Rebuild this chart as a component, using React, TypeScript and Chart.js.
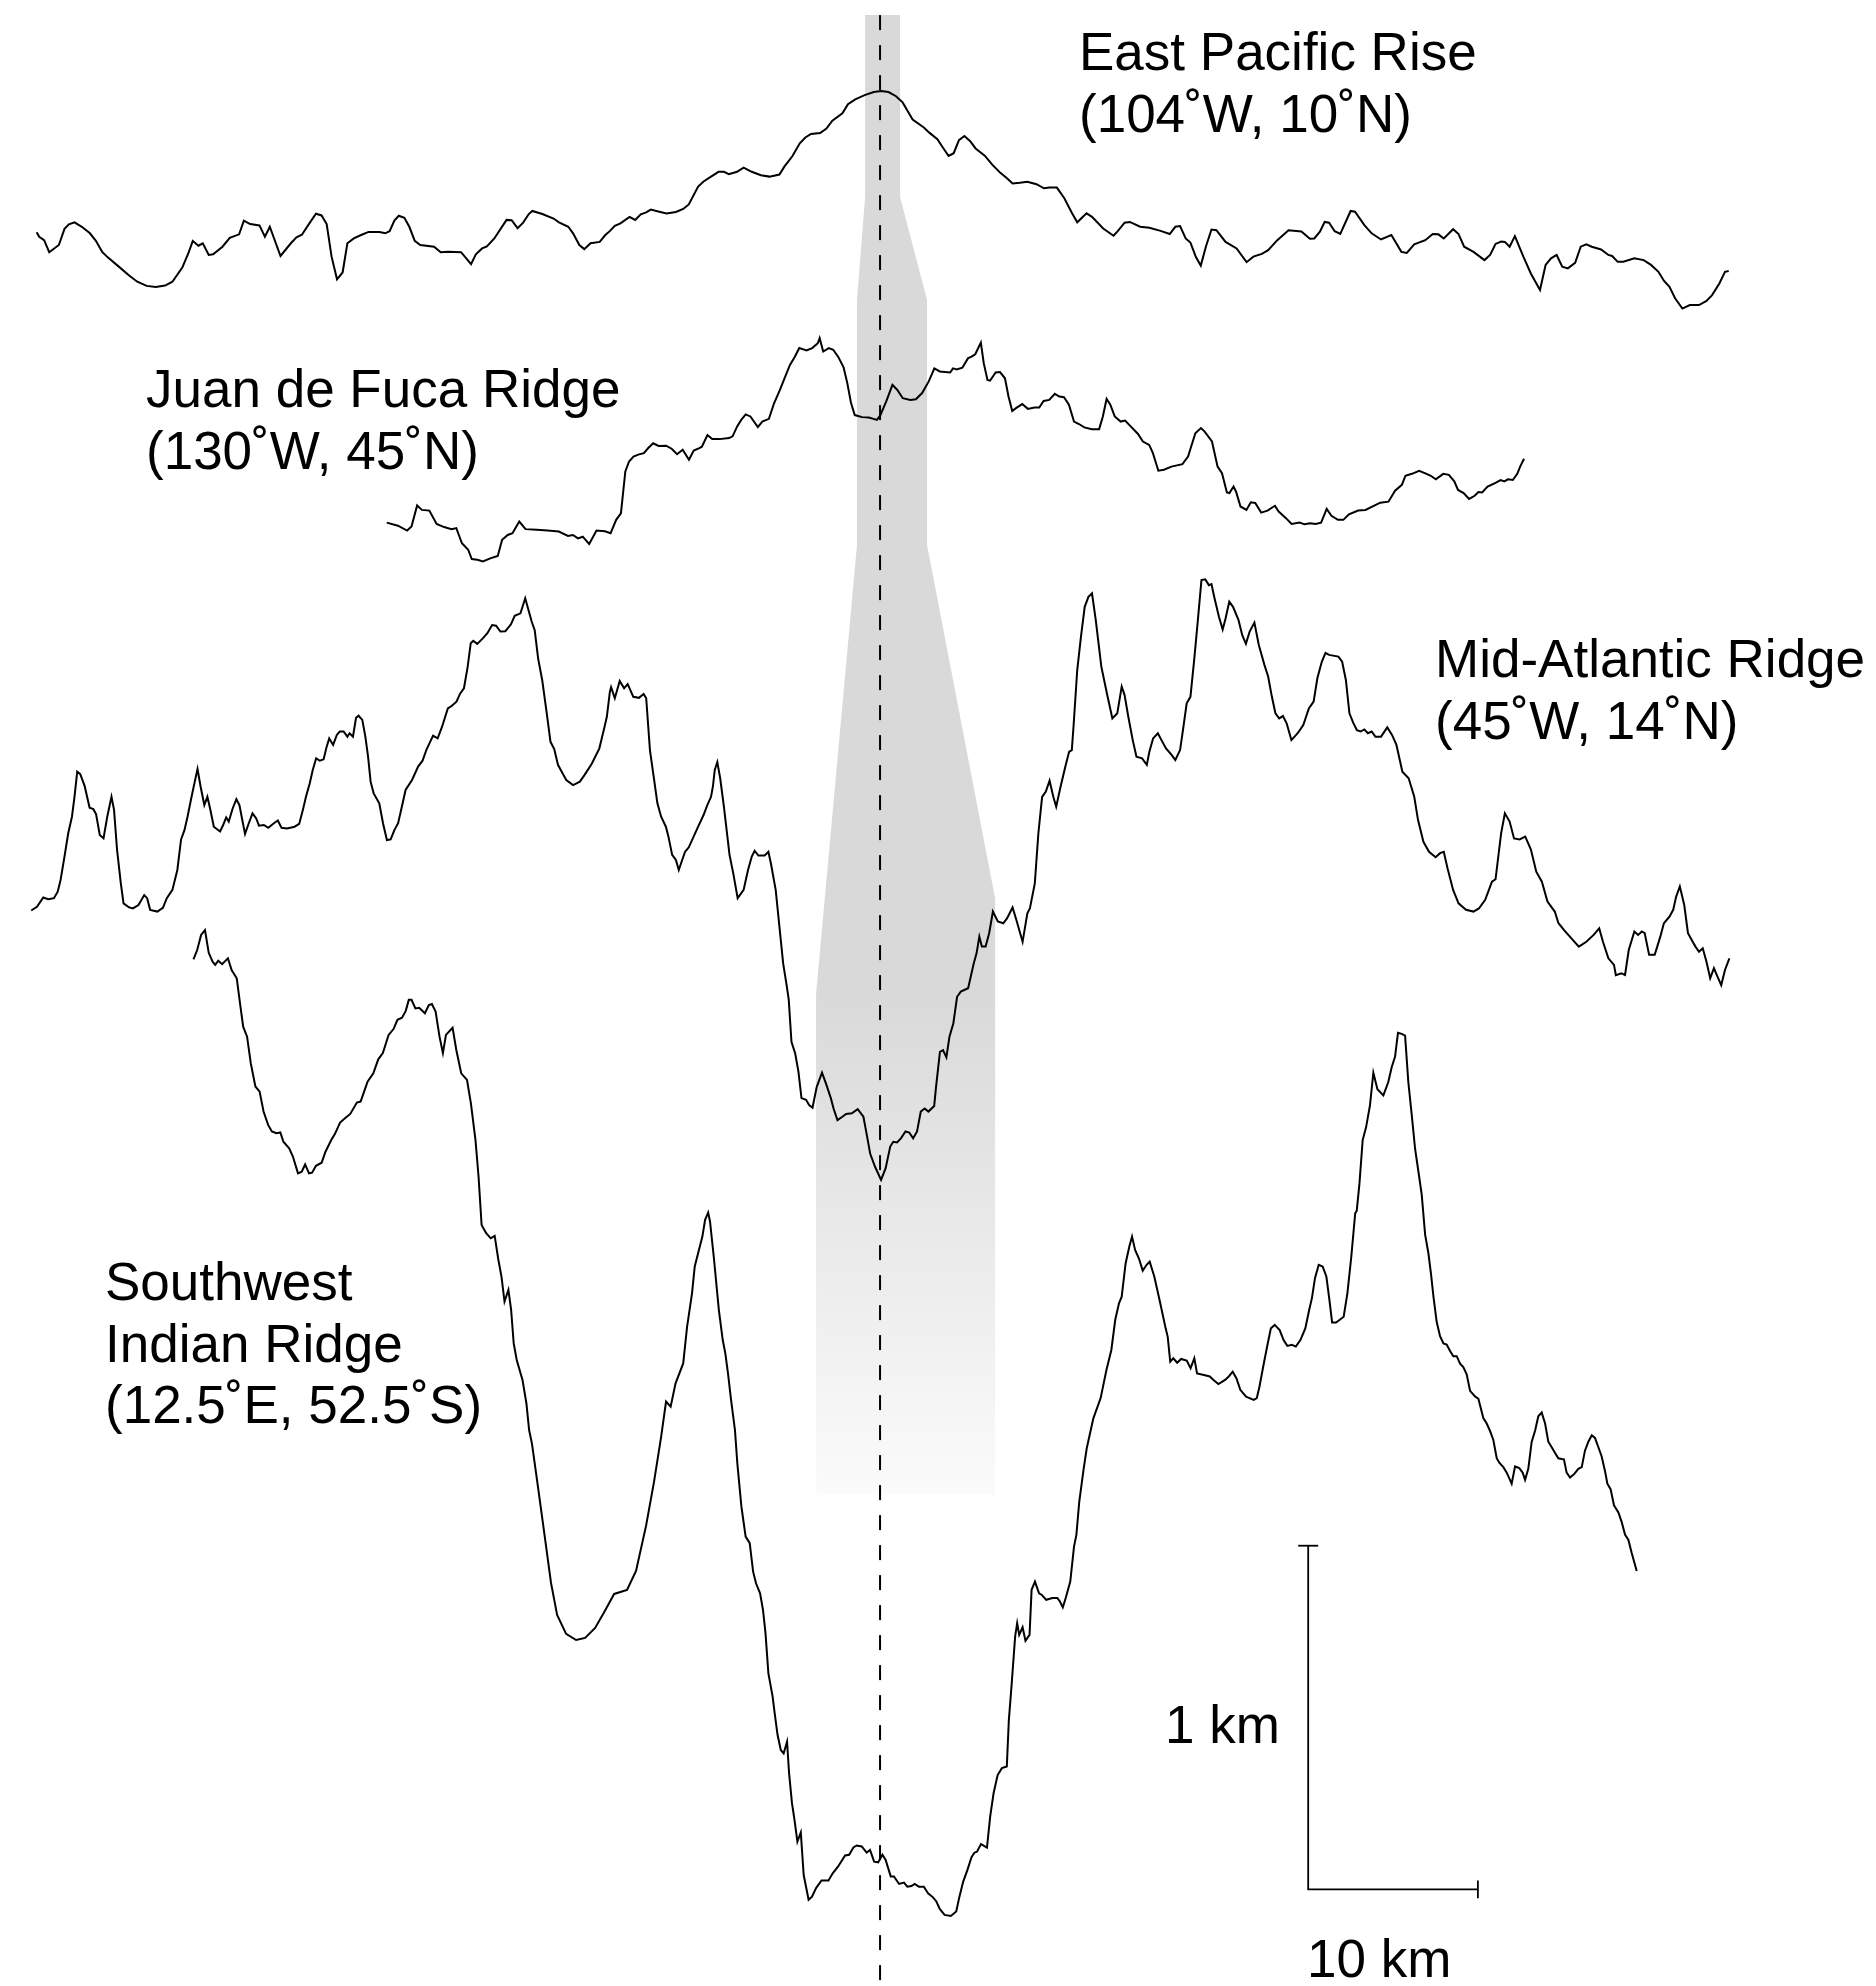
import React, { useEffect, useRef } from 'react';
import { Chart, registerables } from 'chart.js';

Chart.register(...registerables);

// ---------- Data: across-axis distance (km) and relief (m, relative to each profile's datum) ----------
const eprDistKm = [
  -49.70, -49.55, -49.26, -48.96, -48.39, -48.06, -47.80, -47.47, -47.04, -46.56, -46.21, -45.84, -45.51, -44.86,
  -44.25, -43.77, -43.22, -42.68, -42.13, -41.70, -41.11, -40.76, -40.50, -40.17, -39.91, -39.56, -39.30, -38.75,
  -38.32, -37.77, -37.49, -37.12, -36.57, -36.25, -35.96, -35.33, -34.72, -34.39, -34.07, -33.63, -33.24, -32.91,
  -32.61, -32.32, -32.00, -31.67, -31.39, -31.01, -30.58, -30.14, -29.49, -29.16, -28.90, -28.62, -28.36, -28.03,
  -27.74, -27.42, -27.09, -26.28, -25.89, -25.46, -24.69, -24.10, -23.82, -23.45, -23.17, -22.73, -22.01, -21.71,
  -21.36, -21.03, -20.70, -20.49, -19.90, -19.24, -18.92, -18.37, -18.09, -17.72, -17.43, -17.06, -16.52, -16.19,
  -15.91, -15.63, -15.30, -14.76, -14.43, -14.10, -13.78, -13.51, -13.01, -12.58, -12.03, -11.60, -11.27, -10.72,
  -10.40, -9.96, -9.52, -9.20, -8.91, -8.43, -8.04, -7.56, -7.02, -6.52, -5.93, -5.64, -5.16, -4.73, -4.40, -4.07,
  -3.53, -3.16, -2.81, -2.22, -1.89, -1.46, -0.91, -0.37, 0.07, 0.50, 0.94, 1.33, 1.59, 1.92, 2.58, 2.90, 3.38,
  3.67, 4.04, 4.34, 4.65, 4.97, 5.30, 5.63, 6.17, 6.61, 7.09, 7.48, 7.81, 8.24, 8.68, 9.22, 9.66, 9.99, 10.42,
  10.86, 11.30, 11.62, 12.17, 12.49, 13.15, 13.76, 14.02, 14.41, 14.72, 15.33, 15.87, 16.53, 17.07, 17.40, 17.68,
  18.01, 18.29, 18.62, 18.90, 19.20, 19.53, 19.82, 20.36, 21.01, 21.60, 22.00, 22.50, 22.87, 23.41, 24.07, 24.83,
  25.33, 25.59, 25.92, 26.20, 26.46, 26.79, 27.12, 27.73, 27.99, 28.54, 28.97, 29.52, 30.13, 30.72, 31.04, 31.48,
  32.13, 32.57, 32.90, 33.22, 33.77, 34.09, 34.42, 34.97, 35.62, 35.95, 36.27, 36.60, 36.82, 37.10, 37.41, 37.91,
  38.35, 38.89, 39.22, 39.54, 39.87, 40.20, 40.53, 40.96, 41.29, 41.62, 41.94, 42.49, 42.92, 43.14, 43.47, 43.80,
  44.45, 45.00, 45.43, 45.87, 46.19, 46.52, 46.85, 47.28, 47.72, 48.26, 48.70, 49.03, 49.46, 49.79, 50.01,
];
const eprReliefM = [
  110, 97, 87, 52, 73, 120, 133, 139, 126, 107, 85, 53, 37, 10,
  -16, -34, -46, -49, -45, -34, 8, 49, 85, 71, 78, 44, 46, 68,
  94, 104, 144, 134, 130, 97, 126, 41, 78, 95, 103, 136, 164, 159,
  134, 39, -27, -7, 78, 92, 102, 111, 111, 107, 113, 144, 158, 152,
  126, 85, 73, 68, 52, 53, 52, 17, 46, 63, 69, 92, 146, 145,
  122, 138, 163, 172, 163, 150, 139, 126, 107, 73, 61, 78, 82, 102,
  114, 129, 136, 155, 146, 162, 168, 176, 170, 165, 169, 178, 191, 243,
  258, 272, 286, 286, 279, 286, 298, 286, 276, 272, 278, 301, 332, 369, 386, 396,
  399, 412, 435, 456, 483, 497, 509, 518, 521, 518, 506, 488, 466, 438, 415, 400, 381,
  359, 332, 340, 378, 390, 376, 354, 333, 307, 283, 267, 252, 254, 257, 250, 238, 240, 240,
  209, 167, 139, 165, 155, 121, 100, 114, 138, 140, 126, 123, 114, 105, 126, 128,
  92, 80, 37, 13, 68, 118, 116, 82, 63, 23, 39, 47, 58, 87, 116, 112,
  91, 92, 112, 140, 138, 113, 105, 172, 170, 131, 107, 89, 102, 53, 50, 75,
  87, 105, 104, 92, 119, 105, 68, 53, 29, 44, 76, 83, 82, 68, 99, 39,
  -10, -58, 15, 34, 44, 10, 5, 21, 68, 75, 68, 60, 44, 41, 24, 24,
  34, 29, 15, -5, -31, -49, -82, -112, -102, -102, -90, -73, -39, -5, -3,
];

const jdfDistKm = [
  -29.07, -28.41, -27.87, -27.61, -27.28, -27.00, -26.56, -26.13, -25.69, -25.25, -24.97, -24.64, -24.27, -24.06,
  -23.73, -23.40, -22.97, -22.53, -22.27, -21.94, -21.66, -21.26, -20.89, -20.24, -19.59, -18.93, -18.39, -18.10,
  -17.80, -17.52, -17.14, -16.71, -16.21, -15.88, -15.55, -15.27, -15.01, -14.79, -14.53, -14.25, -13.92, -13.66,
  -13.37, -13.05, -12.61, -12.28, -11.96, -11.63, -11.26, -10.98, -10.65, -10.50, -10.17, -9.89, -9.45, -8.90,
  -8.69, -8.42, -8.18, -7.92, -7.64, -7.20, -6.94, -6.55, -6.24, -5.90, -5.63, -5.31, -5.02, -4.76, -4.33, -4.00,
  -3.67, -3.56, -3.35, -3.02, -2.76, -2.47, -2.15, -1.93, -1.71, -1.49, -1.06, -0.66, -0.18, 0.03, 0.36, 0.73,
  1.02, 1.34, 1.78, 2.11, 2.48, 2.87, 3.20, 3.52, 4.13, 4.30, 4.52, 4.85, 5.18, 5.39, 5.61, 5.94, 6.11, 6.33,
  6.48, 6.81, 7.07, 7.36, 7.57, 7.79, 8.01, 8.38, 8.71, 9.10, 9.38, 9.64, 9.97, 10.30, 10.56, 10.84, 11.13, 11.43,
  11.72, 12.04, 12.48, 12.91, 13.13, 13.35, 13.57, 13.83, 14.18, 14.44, 14.77, 15.20, 15.49, 15.86, 16.08, 16.40,
  16.73, 17.17, 17.82, 18.15, 18.58, 18.91, 19.13, 19.56, 19.89, 20.15, 20.44, 20.59, 20.83, 20.98, 21.24, 21.59,
  21.85, 22.11, 22.46, 22.83, 23.27, 23.49, 23.92, 24.25, 24.73, 25.01, 25.34, 25.67, 25.99, 26.32, 26.60, 26.98,
  27.30, 27.63, 28.17, 28.61, 28.94, 29.48, 29.96, 30.35, 30.75, 30.96, 31.34, 31.77, 32.10, 32.43, 32.75, 33.19,
  33.52, 33.84, 34.06, 34.39, 34.71, 35.04, 35.26, 35.48, 35.80, 36.24, 36.57, 36.79, 37.00, 37.29, 37.55, 37.72,
  37.95,
];
const jdfReliefM = [
  -8, -17, -31, -19, 42, 29, 27, -12, -21, -27, -24, -68, -87, -114,
  -116, -121, -112, -105, -58, -44, -39, -5, -27, -29, -31, -34, -47, -44,
  -54, -49, -70, -31, -33, -39, 0, 19, 141, 170, 184, 190, 194, 209,
  223, 215, 216, 207, 191, 204, 175, 202, 209, 213, 247, 235, 235, 238,
  243, 272, 291, 307, 301, 270, 286, 294, 340, 378, 412, 451, 475, 500, 493, 500,
  514, 529, 490, 500, 495, 475, 444, 398, 340, 305, 299, 298, 291, 306, 344, 393,
  378, 354, 349, 351, 369, 403, 441, 432, 429, 441, 438, 443, 470, 475, 482, 516, 456, 407,
  405, 429, 430, 412, 359, 317, 325, 337, 323, 327, 327, 346, 349, 367, 359, 357, 335, 286,
  279, 269, 264, 264, 301, 352, 335, 301, 286, 289, 272, 250, 228, 218, 194, 143,
  146, 155, 162, 184, 252, 267, 257, 228, 155, 136, 80, 78, 97, 82, 39, 29,
  51, 49, 21, 27, 41, 24, 5, -12, -8, -13, -10, -12, -8, 32, 12, 0,
  0, 16, 27, 29, 37, 50, 53, 85, 102, 128, 134, 143, 136, 129, 118, 134,
  131, 112, 87, 78, 61, 70, 81, 80, 97, 107, 116, 112, 118, 116, 134, 155,
  178,
];

const marDistKm = [
  -50.02, -49.68, -49.31, -49.02, -48.68, -48.46, -48.29, -48.06, -47.84, -47.62, -47.47, -47.31, -47.13, -46.87,
  -46.58, -46.36, -46.20, -45.98, -45.76, -45.54, -45.29, -45.14, -44.96, -44.74, -44.58, -44.25, -44.03, -43.70,
  -43.36, -43.19, -43.01, -42.59, -42.26, -42.03, -41.70, -41.41, -41.19, -40.99, -40.81, -40.59, -40.37, -40.22,
  -40.04, -39.82, -39.64, -39.48, -39.26, -38.89, -38.71, -38.53, -38.38, -38.15, -37.93, -37.75, -37.60, -37.42,
  -37.20, -36.98, -36.76, -36.60, -36.31, -36.05, -35.72, -35.49, -35.27, -34.94, -34.50, -34.23, -34.01, -33.83,
  -33.61, -33.43, -33.23, -33.01, -32.79, -32.61, -32.46, -32.23, -32.01, -31.84, -31.61, -31.39, -31.26, -31.06,
  -30.88, -30.73, -30.51, -30.33, -30.17, -30.02, -29.84, -29.51, -29.29, -29.06, -28.84, -28.62, -28.40, -28.18,
  -27.96, -27.58, -27.22, -26.96, -26.74, -26.34, -26.07, -25.81, -25.47, -25.23, -24.96, -24.74, -24.52, -24.30,
  -24.12, -23.97, -23.74, -23.41, -23.14, -22.86, -22.63, -22.37, -22.08, -21.75, -21.53, -21.19, -20.91, -20.71,
  -20.53, -20.35, -20.15, -19.91, -19.64, -19.42, -19.20, -18.98, -18.76, -18.49, -18.09, -17.69, -17.42, -16.98,
  -16.54, -16.21, -16.10, -15.92, -15.85, -15.63, -15.34, -15.08, -14.87, -14.54, -14.21, -13.93, -13.78, -13.56,
  -13.34, -13.12, -12.90, -12.62, -12.47, -12.25, -12.03, -11.86, -11.66, -11.49, -11.27, -10.94, -10.72, -10.40,
  -10.18, -9.96, -9.85, -9.74, -9.59, -9.42, -9.20, -8.87, -8.65, -8.39, -8.04, -7.78, -7.56, -7.39, -7.17, -6.80,
  -6.58, -6.43, -6.15, -5.93, -5.71, -5.49, -5.38, -5.22, -5.00, -4.81, -4.63, -4.36, -4.18, -3.98, -3.73, -3.42,
  -3.19, -2.90, -2.74, -2.51, -2.22, -2.00, -1.66, -1.32, -0.98, -0.80, -0.58, -0.30, 0.06, 0.33, 0.60, 0.78,
  1.00, 1.23, 1.50, 1.72, 1.95, 2.18, 2.40, 2.63, 2.85, 3.19, 3.30, 3.53, 3.71, 3.91, 4.09, 4.32,
  4.54, 4.76, 5.19, 5.30, 5.52, 5.69, 5.85, 6.00, 6.22, 6.43, 6.65, 6.94, 7.26, 7.48, 7.81, 8.03, 8.40, 8.68,
  8.83, 9.12, 9.33, 9.55, 9.77, 9.99, 10.21, 10.38, 10.64, 10.92, 11.14, 11.30, 11.40, 11.62, 11.84, 12.06,
  12.28, 12.49, 12.71, 13.04, 13.41, 13.69, 13.98, 14.24, 14.41, 14.63, 14.89, 15.11, 15.44, 15.72, 15.87, 16.09,
  16.37, 16.53, 16.85, 17.18, 17.40, 17.68, 17.85, 18.07, 18.29, 18.51, 18.73, 18.94, 19.16, 19.38, 19.53, 19.71,
  19.97, 20.19, 20.36, 20.58, 20.80, 21.12, 21.34, 21.56, 21.78, 22.06, 22.32, 22.65, 22.87, 23.09, 23.30, 23.52,
  23.74, 23.96, 24.24, 24.61, 24.94, 25.27, 25.55, 25.77, 26.03, 26.25, 26.46, 27.01, 27.23, 27.45, 27.66, 27.88,
  28.10, 28.32, 28.54, 28.75, 28.97, 29.19, 29.52, 29.89, 30.17, 30.43, 30.78, 31.15, 31.48, 31.70, 32.02, 32.35,
  32.74, 33.00, 33.22, 33.44, 33.77, 34.09, 34.53, 34.97, 35.29, 35.66, 36.06, 36.27, 36.60, 36.82, 37.10, 37.36,
  37.69, 38.02, 38.35, 38.67, 39.00, 39.33, 39.76, 39.98, 40.31, 40.74, 41.18, 41.62, 42.05, 42.38, 42.60, 42.92,
  43.25, 43.36, 43.69, 43.90, 44.12, 44.45, 44.67, 44.89, 45.06, 45.32, 45.65, 45.98, 46.19, 46.52, 46.74, 46.91,
  47.13, 47.39, 47.61, 47.83, 48.05, 48.26, 48.48, 48.70, 48.92, 49.14, 49.31, 49.57, 49.79, 50.05,
];
const marReliefM = [
  173, 184, 211, 206, 209, 228, 262, 330, 398, 446, 504, 577, 570, 535,
  472, 468, 454, 393, 383, 446, 504, 466, 349, 252, 194, 182, 179, 189,
  218, 209, 175, 170, 181, 209, 233, 291, 380, 407, 446, 500, 551, 585,
  534, 480, 504, 470, 417, 403, 422, 444, 432, 470, 497, 480, 441, 396,
  427, 456, 441, 420, 422, 414, 427, 435, 414, 412, 417, 425, 466, 504,
  543, 582, 616, 609, 613, 650, 674, 655, 684, 694, 694, 679, 689, 679,
  734, 740, 728, 679, 621, 548, 514, 485, 427, 378, 380, 407, 427, 475,
  524, 553, 592, 609, 640, 682, 674, 708, 761, 769, 781, 805, 820, 883,
  951, 958, 949, 965, 980, 1004, 1002, 985, 986, 1006, 1031, 1038, 1082, 1046,
  1014, 989, 907, 844, 747, 664, 643, 597, 577, 553, 538, 548, 567, 601,
  645, 713, 737, 810, 823, 791, 841, 820, 832, 795, 792, 803, 791, 640,
  563, 485, 446, 417, 388, 335, 320, 291, 320, 344, 357, 393, 417, 451,
  480, 504, 534, 582, 605, 558, 475, 335, 281, 209, 233, 291, 330, 347, 333, 333,
  344, 310, 233, 126, 19, -49, -87, -209, -243, -296, -373, -378, -393, -401, -340, -299,
  -330, -373, -403, -437, -427, -419, -417, -405, -427, -475, -535, -572, -611, -577, -514, -500,
  -502, -490, -470, -473, -490, -470, -412, -403, -412, -396, -340, -238, -233, -254, -194, -155,
  -78, -63, -53, -29, 19, 49, 97, 68, 68, 107, 170, 141, 136, 150, 182, 146, 82, 165,
  179, 252, 398, 504, 519, 551, 504, 475, 534, 592, 635, 640, 708, 873, 970, 1057,
  1086, 1096, 1019, 883, 795, 732, 747, 825, 800, 737, 669, 621, 616, 597, 635, 674,
  689, 674, 645, 626, 611, 640, 698, 776, 795, 902, 1019, 1135, 1137, 1120, 1123, 1082,
  1028, 991, 1023, 1072, 1057, 1019, 975, 949, 985, 1011, 946, 888, 854, 795, 747, 732,
  739, 718, 669, 689, 713, 761, 781, 849, 897, 923, 917, 912, 897, 844, 747, 720,
  698, 694, 700, 689, 694, 679, 679, 706, 684, 655, 577, 558, 504, 437, 373, 344,
  328, 340, 344, 296, 233, 194, 175, 170, 179, 204, 257, 264, 398, 456, 432, 383,
  380, 388, 351, 286, 257, 199, 170, 136, 116, 92, 68, 82, 102, 121, 82, 34,
  15, -15, -10, -15, 58, 112, 102, 112, 107, 44, 44, 97, 136, 155, 175, 213,
  243, 189, 107, 87, 68, 53, 63, 24, -24, 5, -15, -44, 0, 34,
];

const swirDistKm = [
  -40.46, -40.24, -40.01, -39.78, -39.56, -39.33, -39.18, -39.00, -38.77, -38.43, -38.21, -37.91, -37.69, -37.53,
  -37.30, -37.08, -36.81, -36.56, -36.33, -36.06, -35.84, -35.57, -35.34, -35.16, -34.82, -34.60, -34.30, -34.08,
  -33.88, -33.65, -33.47, -33.24, -32.91, -32.68, -32.34, -32.12, -31.82, -31.55, -31.22, -30.83, -30.61, -30.20,
  -29.86, -29.57, -29.30, -28.96, -28.67, -28.44, -28.17, -27.95, -27.77, -27.61, -27.38, -27.16, -26.82, -26.59,
  -26.41, -26.19, -25.96, -25.76, -25.58, -25.19, -24.97, -24.68, -24.34, -24.11, -23.84, -23.66, -23.48, -23.21,
  -22.94, -22.71, -22.49, -22.31, -22.13, -21.90, -21.74, -21.59, -21.41, -21.07, -20.84, -20.68, -20.51, -20.15,
  -19.74, -19.39, -19.03, -18.50, -17.91, -17.38, -16.79, -16.21, -15.67, -14.91, -14.38, -13.79, -13.32, -12.91,
  -12.61, -12.34, -12.05, -11.60, -11.37, -11.08, -10.92, -10.70, -10.47, -10.31, -10.13, -10.02, -9.79, -9.50,
  -9.27, -9.12, -8.96, -8.78, -8.55, -8.41, -8.17, -7.92, -7.68, -7.48, -7.31, -7.07, -6.90, -6.75, -6.58, -6.33,
  -6.21, -6.04, -5.85, -5.68, -5.48, -5.36, -5.19, -5.04, -4.87, -4.67, -4.50, -4.21, -4.01, -3.77, -3.45, -3.04,
  -2.79, -2.47, -2.06, -1.82, -1.57, -1.38, -1.08, -0.79, -0.59, -0.35, -0.11, 0.14, 0.33, 0.63, 0.82, 1.12,
  1.41, 1.61, 1.85, 2.04, 2.29, 2.58, 2.83, 3.12, 3.32, 3.51, 3.80, 4.17, 4.49, 4.66, 4.90, 5.15, 5.39, 5.56,
  5.71, 5.95, 6.30, 6.49, 6.69, 6.93, 7.18, 7.47, 7.59, 7.76, 7.96, 8.08, 8.20, 8.40, 8.57, 8.81, 8.93, 9.13,
  9.37, 9.54, 9.79, 10.16, 10.45, 10.60, 10.77, 10.94, 11.21, 11.43, 11.57, 11.74, 11.99, 12.18, 12.57, 13.00,
  13.34, 13.63, 13.86, 14.08, 14.24, 14.47, 14.69, 14.85, 15.03, 15.25, 15.48, 15.71, 15.89, 16.16, 16.49, 16.83,
  16.95, 17.10, 17.28, 17.51, 17.74, 18.07, 18.30, 18.52, 18.68, 19.09, 19.43, 19.65, 19.94, 20.33, 20.55, 20.78,
  21.00, 21.23, 21.57, 22.02, 22.20, 22.36, 22.58, 22.81, 23.03, 23.26, 23.55, 23.78, 24.00, 24.27, 24.50, 24.77,
  25.06, 25.29, 25.45, 25.63, 25.85, 26.08, 26.30, 26.48, 26.64, 26.87, 27.09, 27.32, 27.54, 27.77, 28.00, 28.09,
  28.25, 28.44, 28.64, 28.87, 29.07, 29.31, 29.66, 29.95, 30.15, 30.35, 30.52, 30.74, 30.94, 31.13, 31.33, 31.53,
  31.72, 31.92, 32.12, 32.31, 32.47, 32.61, 32.80, 33.00, 33.20, 33.39, 33.59, 33.78, 33.98, 34.18, 34.37, 34.57,
  34.77, 35.06, 35.26, 35.55, 35.75, 35.94, 36.14, 36.34, 36.49, 36.73, 36.93, 37.22, 37.42, 37.67, 37.87, 38.01,
  38.20, 38.40, 38.60, 38.79, 38.99, 39.19, 39.38, 39.58, 39.77, 39.97, 40.17, 40.30, 40.46, 40.66, 40.89, 41.15,
  41.35, 41.54, 41.74, 41.94, 42.13, 42.33, 42.52, 42.72, 42.86, 43.05, 43.25, 43.51, 43.70, 43.90, 44.10, 44.29,
  44.59,
];
const swirReliefM = [
  1777, 1804, 1848, 1862, 1796, 1770, 1761, 1773, 1763, 1780, 1746, 1722, 1639, 1581,
  1552, 1474, 1407, 1392, 1334, 1295, 1276, 1271, 1273, 1246, 1227, 1203, 1154, 1159,
  1180, 1154, 1156, 1176, 1185, 1217, 1251, 1269, 1302, 1314, 1327, 1360, 1363, 1421,
  1445, 1486, 1504, 1557, 1574, 1601, 1607, 1627, 1659, 1659, 1634, 1636, 1620, 1644,
  1647, 1625, 1552, 1504, 1557, 1578, 1513, 1445, 1426, 1358, 1251, 1145, 1004, 980,
  965, 972, 902, 854, 781, 815, 757, 660, 611, 553, 485, 407, 367, 239,
  90, -38, -131, -186, -204, -198, -169, -119, -70, -58, -3, 128, 256, 384,
  490, 475, 543, 601, 708, 805, 883, 926, 970, 1019, 1040, 1014, 907, 757,
  669, 631, 572, 495, 407, 310, 184, 97, 78, -5, -39, -68, -116, -184, -301, -369,
  -417, -480, -524, -534, -500, -592, -679, -728, -791, -764, -888, -960, -951, -926, -904, -904,
  -883, -863, -831, -829, -808, -802, -805, -823, -815, -849, -851, -829, -844, -892, -892, -914,
  -910, -922, -920, -914, -922, -922, -941, -953, -965, -986, -1004, -1007, -994, -955, -907, -873, -836, -823,
  -820, -798, -808, -718, -650, -597, -577, -572, -437, -330, -194, -155, -189, -167, -206, -189, -58, -34,
  -68, -73, -87, -82, -82, -92, -109, -82, -34, 68, 102, 199, 291, 354, 441, 500,
  582, 640, 728, 776, 795, 892, 941, 970, 931, 907, 871, 888, 897, 854, 781, 703,
  679, 606, 616, 603, 614, 609, 587, 616, 572, 567, 563, 553, 541, 553, 563, 577,
  558, 524, 504, 495, 500, 534, 592, 650, 703, 713, 698, 669, 652, 655, 650, 669,
  703, 757, 791, 849, 888, 883, 854, 786, 720, 720, 728, 737, 805, 912, 1038, 1045,
  1124, 1251, 1288, 1352, 1447, 1399, 1381, 1420, 1463, 1494, 1563, 1560, 1555, 1420, 1325, 1225,
  1161, 1092, 976, 923, 860, 796, 722, 680, 659, 656, 637, 622, 622, 600, 590, 569,
  521, 505, 498, 442, 426, 405, 378, 325, 312, 299, 283, 251, 301, 296, 283, 262,
  294, 373, 405, 447, 458, 426, 373, 357, 341, 325, 323, 322, 283, 269, 278, 294,
  299, 347, 373, 392, 384, 357, 331, 288, 251, 235, 188, 167, 140, 103, 87, 50,
  -3,
];

// Vertical stacking of the four profiles in the figure (km of figure height for each datum)
const profileOffsetKm = [4.994, 4.267, 2.957, 1.211];
const profileNames = ['East Pacific Rise', 'Juan de Fuca Ridge', 'Mid-Atlantic Ridge', 'Southwest Indian Ridge'];

// Shaded neovolcanic-zone band (outline in km)
const bandDistKm = [-0.88, 1.18, 1.18, 2.77, 2.77, 6.78, 6.78, -3.77, -3.77, -1.36, -1.36, -0.88];
const bandHeightKm = [5.736, 5.736, 5.207, 4.907, 4.194, 3.166, 1.429, 1.429, 2.887, 4.194, 4.907, 5.207];
const bandFadeKm = [2.90, 1.43];

// Figure extents (km)
const xRangeKm = [-51.86, 58.69];
const yRangeKm = [0, 5.78];
const axisTopKm = 5.736;

// Scale bar (1 km vertical, 10 km horizontal)
const scaleOriginKm = [25.23, 0.2814];
const scaleLenKm = [10, 1];

const W = 1876;
const H = 1986;
const FONT = '53px "Liberation Sans", Arial, Helvetica, sans-serif';
const LINE_GAP = 61.5;
const textLabels = [
  { x: 1079, y: 70, lines: ['East Pacific Rise', '(104˚W, 10˚N)'] },
  { x: 146, y: 407, lines: ['Juan de Fuca Ridge', '(130˚W, 45˚N)'] },
  { x: 1435, y: 677, lines: ['Mid-Atlantic Ridge', '(45˚W, 14˚N)'] },
  { x: 105, y: 1300, lines: ['Southwest', 'Indian Ridge', '(12.5˚E, 52.5˚S)'] },
  { x: 1165, y: 1743, lines: ['1 km'] },
  { x: 1307, y: 1977, lines: ['10 km'] },
];

function toPoints(dist: number[], relief: number[], offset: number) {
  return dist.map((d, i) => ({ x: d, y: offset + relief[i] / 1000 }));
}

const labelPlugin = {
  id: 'ridgeLabels',
  afterDraw(chart: any) {
    const ctx = chart.ctx;
    ctx.save();
    ctx.font = FONT;
    ctx.fillStyle = '#000';
    ctx.textAlign = 'left';
    ctx.textBaseline = 'alphabetic';
    for (const lab of textLabels) {
      lab.lines.forEach((t, i) => ctx.fillText(t, lab.x, lab.y + i * LINE_GAP));
    }
    ctx.restore();
  },
};

export default function App() {
  const ref = useRef<HTMLCanvasElement | null>(null);

  useEffect(() => {
    if (!ref.current) return;
    const lineStyle = {
      borderColor: '#000',
      borderWidth: 2,
      pointRadius: 0,
      pointHoverRadius: 0,
      fill: false,
      tension: 0,
      order: 0,
    };
    const profiles = [
      toPoints(eprDistKm, eprReliefM, profileOffsetKm[0]),
      toPoints(jdfDistKm, jdfReliefM, profileOffsetKm[1]),
      toPoints(marDistKm, marReliefM, profileOffsetKm[2]),
      toPoints(swirDistKm, swirReliefM, profileOffsetKm[3]),
    ];
    const [sx, sy] = scaleOriginKm;
    const tickHalfX = 0.59;
    const tickHalfY = 0.026;

    const datasets: any[] = profiles.map((pts, i) => ({
      label: profileNames[i],
      data: pts,
      ...lineStyle,
    }));
    datasets.push({
      label: 'axis',
      data: [{ x: 0, y: axisTopKm }, { x: 0, y: yRangeKm[0] }],
      ...lineStyle,
      borderWidth: 2,
      borderDash: [15, 15],
    });
    datasets.push({
      label: 'scale-v',
      data: [{ x: sx, y: sy + scaleLenKm[1] }, { x: sx, y: sy }, { x: sx + scaleLenKm[0], y: sy }],
      ...lineStyle,
      borderWidth: 1.8,
    });
    datasets.push({
      label: 'scale-top-tick',
      data: [{ x: sx - tickHalfX, y: sy + scaleLenKm[1] }, { x: sx + tickHalfX, y: sy + scaleLenKm[1] }],
      ...lineStyle,
      borderWidth: 1.8,
    });
    datasets.push({
      label: 'scale-right-tick',
      data: [{ x: sx + scaleLenKm[0], y: sy + tickHalfY }, { x: sx + scaleLenKm[0], y: sy - tickHalfY }],
      ...lineStyle,
      borderWidth: 1.8,
    });
    datasets.push({
      label: 'band',
      data: bandDistKm.map((d, i) => ({ x: d, y: bandHeightKm[i] })),
      borderWidth: 0,
      borderColor: 'rgba(0,0,0,0)',
      pointRadius: 0,
      pointHoverRadius: 0,
      tension: 0,
      fill: 'shape',
      order: 5,
      backgroundColor: (c: any) => {
        const chart = c.chart;
        const ys = chart.scales && chart.scales.y;
        if (!chart.chartArea || !ys) return 'rgb(217,217,217)';
        const g = chart.ctx.createLinearGradient(0, ys.getPixelForValue(bandFadeKm[0]), 0, ys.getPixelForValue(bandFadeKm[1]));
        g.addColorStop(0, 'rgb(217,217,217)');
        g.addColorStop(1, 'rgb(251,251,251)');
        return g;
      },
    });

    const chart = new Chart(ref.current, {
      type: 'line',
      data: { datasets },
      options: {
        animation: false,
        responsive: false,
        maintainAspectRatio: false,
        devicePixelRatio: 1,
        layout: { padding: 0 },
        events: [],
        plugins: {
          legend: { display: false },
          tooltip: { enabled: false },
          title: { display: false },
        },
        scales: {
          x: { type: 'linear', min: xRangeKm[0], max: xRangeKm[1], display: false },
          y: { type: 'linear', min: yRangeKm[0], max: yRangeKm[1], display: false },
        },
      },
      plugins: [labelPlugin],
    } as any);
    return () => chart.destroy();
  }, []);

  return (
    <canvas
      ref={ref}
      width={W}
      height={H}
      style={{ position: 'absolute', left: 0, top: 0, width: W, height: H, background: '#fff' }}
    />
  );
}
